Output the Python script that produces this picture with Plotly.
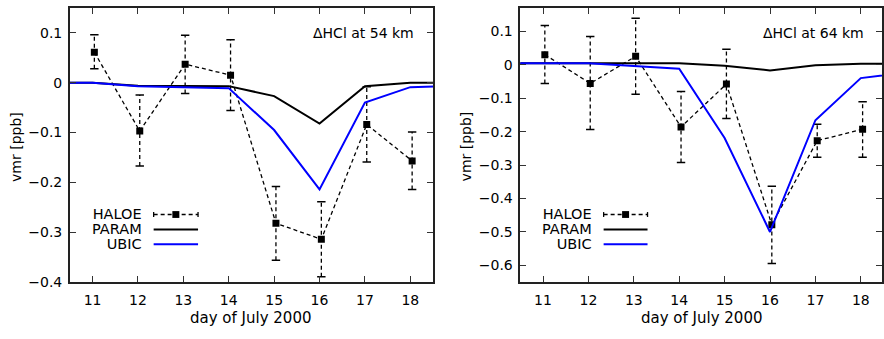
import plotly.graph_objects as go

# ---------------- data ----------------
days = [11, 12, 13, 14, 15, 16, 17, 18]
haloe_days = [11.04, 12.04, 13.04, 14.04, 15.04, 16.04, 17.04, 18.04]
model_days = [10, 11, 12, 13, 14, 15, 16, 17, 18, 19]

# 54 km panel
haloe54 = [0.061, -0.097, 0.037, 0.015, -0.282, -0.314, -0.084, -0.157]
haloe54_hi = [0.096, -0.025, 0.095, 0.086, -0.208, -0.239, -0.008, -0.099]
haloe54_lo = [0.028, -0.167, -0.022, -0.056, -0.356, -0.389, -0.159, -0.214]
param54 = [0.0, 0.0, -0.006, -0.007, -0.007, -0.027, -0.082, -0.007, 0.0, 0.0]
ubic54 = [0.0, 0.0, -0.007, -0.009, -0.011, -0.095, -0.214, -0.040, -0.009, -0.007]

# 64 km panel
haloe64 = [0.030, -0.056, 0.025, -0.186, -0.058, -0.478, -0.227, -0.193]
haloe64_hi = [0.117, 0.084, 0.139, -0.080, 0.046, -0.363, -0.178, -0.111]
haloe64_lo = [-0.056, -0.194, -0.088, -0.292, -0.161, -0.594, -0.277, -0.277]
param64 = [0.004, 0.004, 0.004, 0.004, 0.004, -0.003, -0.017, -0.002, 0.003, 0.003]
ubic64 = [0.004, 0.004, 0.004, -0.004, -0.012, -0.219, -0.500, -0.166, -0.040, -0.024]

panel_titles = ["\u0394HCl at 54 km", "\u0394HCl at 64 km"]
legend_names = ["HALOE", "PARAM", "UBIC"]
xlabel = "day of July 2000"
ylabel = "vmr [ppb]"

# ---------------- layout helpers ----------------
W, H = 884, 339
FONT = "DejaVu Sans"
BLUE = "#0000ff"
DASH = "4px,3px"


def px(x):
    return x / W


def py(y):
    return 1 - y / H


fig = go.Figure()

panels = [
    dict(xa="x", ya="y", haloe=haloe54, hi=haloe54_hi, lo=haloe54_lo,
         param=param54, ubic=ubic54),
    dict(xa="x2", ya="y2", haloe=haloe64, hi=haloe64_hi, lo=haloe64_lo,
         param=param64, ubic=ubic64),
]

for p in panels:
    ex, ey = [], []
    for d, lo, hi in zip(haloe_days, p["lo"], p["hi"]):
        ex += [d, d, None]
        ey += [lo, hi, None]
    fig.add_trace(go.Scatter(x=ex, y=ey, mode="lines", xaxis=p["xa"], yaxis=p["ya"],
                             line=dict(color="black", width=1.3, dash=DASH),
                             showlegend=False, hoverinfo="skip"))
    fig.add_trace(go.Scatter(x=haloe_days + haloe_days, y=p["hi"] + p["lo"], mode="markers",
                             xaxis=p["xa"], yaxis=p["ya"],
                             marker=dict(symbol="line-ew", size=6, color="black",
                                         line=dict(color="black", width=1.5)),
                             showlegend=False, hoverinfo="skip"))
    fig.add_trace(go.Scatter(x=haloe_days, y=p["haloe"], mode="lines+markers",
                             xaxis=p["xa"], yaxis=p["ya"], name=legend_names[0],
                             line=dict(color="black", width=1.3, dash=DASH),
                             marker=dict(symbol="square", size=7, color="black"),
                             showlegend=False))
    fig.add_trace(go.Scatter(x=model_days, y=p["param"], mode="lines",
                             xaxis=p["xa"], yaxis=p["ya"], name=legend_names[1],
                             line=dict(color="black", width=2), showlegend=False))
    fig.add_trace(go.Scatter(x=model_days, y=p["ubic"], mode="lines",
                             xaxis=p["xa"], yaxis=p["ya"], name=legend_names[2],
                             line=dict(color=BLUE, width=2), showlegend=False))

axis_common = dict(showline=True, linecolor="#222", linewidth=1.5, mirror="ticks",
                   ticks="inside", ticklen=6, tickwidth=1, tickcolor="#333",
                   showgrid=False, zeroline=False,
                   tickfont=dict(family=FONT, size=14, color="black"))

ydom = [py(289), py(8)]
fig.update_layout(
    width=W, height=H, margin=dict(l=0, r=0, t=0, b=0),
    paper_bgcolor="white", plot_bgcolor="white", showlegend=False,
    xaxis=dict(domain=[px(70), px(434)], range=[10.5, 18.5], tickvals=days,
               anchor="y", ticklabelstandoff=4, **axis_common),
    yaxis=dict(domain=ydom, range=[-0.4, 0.15], tickvals=[-0.4, -0.3, -0.2, -0.1, 0, 0.1],
               ticktext=["\u22120.4", "\u22120.3", "\u22120.2", "\u22120.1", "0", "0.1"],
               anchor="x", ticklabelstandoff=3, **axis_common),
    xaxis2=dict(domain=[px(521.5), 1.0], range=[10.5, 10.5 + 362.5 / 45.5], tickvals=days,
                anchor="y2", ticklabelstandoff=4, **axis_common),
    yaxis2=dict(domain=ydom, range=[-0.65, 0.17],
                tickvals=[-0.6, -0.5, -0.4, -0.3, -0.2, -0.1, 0, 0.1],
                ticktext=["\u22120.6", "\u22120.5", "\u22120.4", "\u22120.3", "\u22120.2",
                          "\u22120.1", "0", "0.1"],
                anchor="x2", ticklabelstandoff=3, **axis_common),
)

ann = []
shapes = []
font14 = dict(family=FONT, size=14, color="black")

# axis titles
for cx in (252, 704):
    ann.append(dict(text=xlabel, x=px(cx), y=py(326), xref="paper", yref="paper",
                    xanchor="center", yanchor="middle", showarrow=False,
                    font=dict(family=FONT, size=15, color="black")))
for cx in (16.5, 468):
    ann.append(dict(text=ylabel, x=px(cx), y=py(150), xref="paper", yref="paper",
                    xanchor="center", yanchor="middle", showarrow=False, textangle=-90,
                    font=font14))

# panel titles
for rx, t in zip((417, 868), panel_titles):
    ann.append(dict(text=t, x=px(rx), y=py(34.3), xref="paper", yref="paper",
                    xanchor="right", yanchor="middle", showarrow=False, font=font14))

# legends (gnuplot style: text right-aligned, sample to the right)
rows = [219.7, 235.0, 250.2]
legend_text = "<br>".join(
    "<span style='font-size:14.5px'>%s</span>" % n for n in legend_names)
for tx, s0, s1 in ((144, 154, 198.5), (595, 605, 649)):
    ann.append(dict(text=legend_text, x=px(tx), y=py(rows[1]), xref="paper", yref="paper",
                    xanchor="right", yanchor="middle", align="right", showarrow=False,
                    font=dict(family=FONT, size=11.6, color="black")))
    # HALOE sample
    shapes.append(dict(type="line", xref="paper", yref="paper", x0=px(s0), x1=px(s1),
                       y0=py(rows[0]), y1=py(rows[0]),
                       line=dict(color="black", width=1.3, dash=DASH)))
    for ex_ in (s0, s1):
        shapes.append(dict(type="line", xref="paper", yref="paper", x0=px(ex_), x1=px(ex_),
                           y0=py(rows[0] - 2.5), y1=py(rows[0] + 2.5),
                           line=dict(color="black", width=1.3)))
    mid = (s0 + s1) / 2
    shapes.append(dict(type="rect", xref="paper", yref="paper",
                       x0=px(mid - 3.5), x1=px(mid + 3.5),
                       y0=py(rows[0] - 3.5), y1=py(rows[0] + 3.5),
                       fillcolor="black", line=dict(width=0)))
    shapes.append(dict(type="line", xref="paper", yref="paper", x0=px(s0), x1=px(s1),
                       y0=py(rows[1]), y1=py(rows[1]), line=dict(color="black", width=2)))
    shapes.append(dict(type="line", xref="paper", yref="paper", x0=px(s0), x1=px(s1),
                       y0=py(rows[2]), y1=py(rows[2]), line=dict(color=BLUE, width=2)))

fig.update_layout(annotations=ann, shapes=shapes)
fig.write_html("out.html", config={"displayModeBar": False},
               post_script="document.body.style.margin='0';"
                           "document.body.style.overflow='hidden';")
